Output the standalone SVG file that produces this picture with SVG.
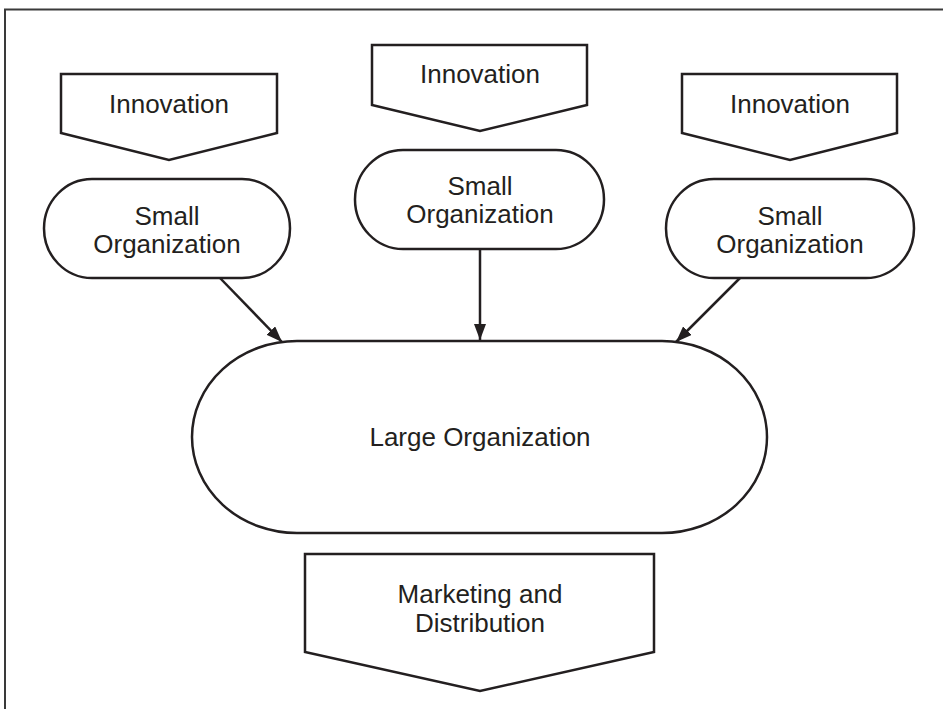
<svg xmlns="http://www.w3.org/2000/svg" width="943" height="709" viewBox="0 0 943 709">
<style>
.shape{fill:#ffffff;stroke:#231f20;stroke-width:2.5;stroke-linejoin:miter}
.lbl{font-family:"Liberation Sans",Arial,sans-serif;font-size:26px;fill:#231f20;text-anchor:middle}
.conn{stroke:#231f20;stroke-width:2.5;fill:none}
</style>
<defs>
<marker id="arr" viewBox="0 0 16 12" refX="16" refY="6" markerWidth="16" markerHeight="12" markerUnits="userSpaceOnUse" orient="auto">
<path d="M0,0 L16,6 L0,12 Z" fill="#231f20"/>
</marker>
</defs>
<rect x="0" y="0" width="943" height="709" fill="#ffffff"/>
<path d="M5,709 V9.5 H943" fill="none" stroke="#3a3a3a" stroke-width="2"/>

<g id="innovation-left">
<path class="shape" d="M61,74 H277 V133 L169,160 L61,133 Z"/>
<text class="lbl" x="169" y="113">Innovation</text>
</g>
<g id="innovation-middle">
<path class="shape" d="M372,45 H587 V105 L480,131 L372,105 Z"/>
<text class="lbl" x="480" y="83">Innovation</text>
</g>
<g id="innovation-right">
<path class="shape" d="M682,74 H897 V133 L790,160 L682,133 Z"/>
<text class="lbl" x="790" y="113">Innovation</text>
</g>

<g id="small-left">
<rect class="shape" x="44" y="179" width="246" height="99" rx="48" ry="49.5"/>
<text class="lbl" x="167" y="225">Small</text>
<text class="lbl" x="167" y="253">Organization</text>
</g>
<g id="small-middle">
<rect class="shape" x="355" y="150" width="249" height="99" rx="48" ry="49.5"/>
<text class="lbl" x="480" y="195">Small</text>
<text class="lbl" x="480" y="223">Organization</text>
</g>
<g id="small-right">
<rect class="shape" x="666" y="179" width="248" height="99" rx="48" ry="49.5"/>
<text class="lbl" x="790" y="225">Small</text>
<text class="lbl" x="790" y="253">Organization</text>
</g>

<g id="large">
<rect class="shape" x="192" y="341" width="575" height="192" rx="105" ry="96"/>
<text class="lbl" x="480" y="446">Large Organization</text>
</g>

<g id="marketing">
<path class="shape" d="M305,554 H654 V652 L480,691 L305,652 Z"/>
<text class="lbl" x="480" y="603">Marketing and</text>
<text class="lbl" x="480" y="632">Distribution</text>
</g>

<g id="connectors">
<line class="conn" x1="220" y1="278" x2="282" y2="342" marker-end="url(#arr)"/>
<line class="conn" x1="480" y1="249" x2="480" y2="340" marker-end="url(#arr)"/>
<line class="conn" x1="740" y1="278" x2="676" y2="342" marker-end="url(#arr)"/>
</g>
</svg>
